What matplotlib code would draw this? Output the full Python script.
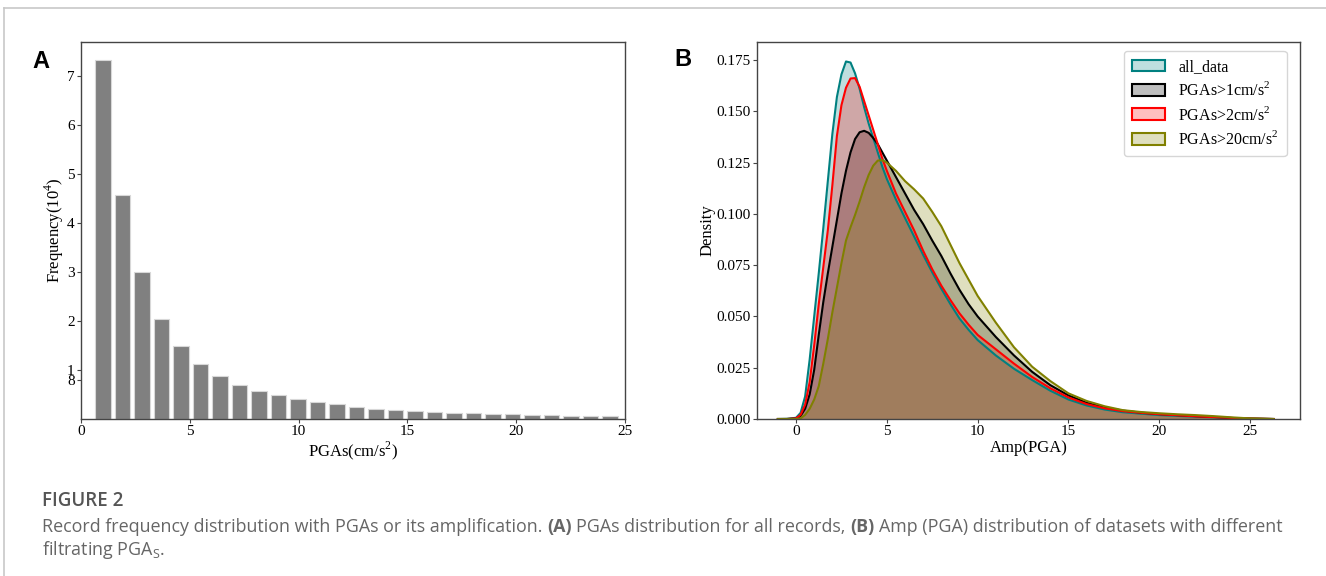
import matplotlib
matplotlib.use('Agg')

import matplotlib.pyplot as plt
from matplotlib.patches import Patch
from matplotlib.colors import to_rgba
from matplotlib.lines import Line2D

plt.rcParams['font.family'] = ['Liberation Serif', 'DejaVu Serif']
plt.rcParams['mathtext.fontset'] = 'custom'
plt.rcParams['mathtext.rm'] = 'Liberation Serif'

# --- panel A: record counts per PGA bin (units of 10^4) ---
bin_start = 0.56
bin_width = 0.896
freq = [7.34, 4.58, 3.00, 2.04, 1.50, 1.13, 0.87, 0.70, 0.58, 0.48, 0.405,
        0.35, 0.30, 0.25, 0.205, 0.19, 0.165, 0.145, 0.13, 0.117, 0.105,
        0.10, 0.085, 0.077, 0.07, 0.058, 0.055]
freq_ticks = [0.8, 1, 2, 3, 4, 5, 6, 7]
freq_ticklabels = ['8', '1', '2', '3', '4', '5', '6', '7']

# --- panel B: density curves of Amp(PGA) ---
amp = [-1.0, -0.5, 0.0, 0.25, 0.5, 0.75, 1.0, 1.25, 1.5, 1.75, 2.0, 2.25,
       2.5, 2.75, 3.0, 3.25, 3.5, 3.75, 4.0, 4.25, 4.5, 4.75, 5.0, 5.5, 6.0,
       6.5, 7.0, 7.5, 8.0, 8.5, 9.0, 9.5, 10, 11, 12, 13, 14, 15, 16, 17,
       18, 19, 20, 21, 22, 23, 24, 25, 26.3]
dens_all = [0.0, 0.0001, 0.0006, 0.003, 0.011, 0.029, 0.050, 0.071, 0.093,
            0.116, 0.139, 0.157, 0.168, 0.1743, 0.1738, 0.1685, 0.161, 0.152,
            0.144, 0.137, 0.130, 0.123, 0.117, 0.107, 0.098, 0.089, 0.080,
            0.0715, 0.0635, 0.056, 0.049, 0.0435, 0.0385, 0.031, 0.0245,
            0.019, 0.0138, 0.0095, 0.0066, 0.0046, 0.0033, 0.0026, 0.0019,
            0.0015, 0.0011, 0.0008, 0.0004, 0.0002, 0.0]
dens_gt1 = [0.0, 0.0, 0.0002, 0.0015, 0.005, 0.012, 0.024, 0.041, 0.057,
            0.071, 0.084, 0.097, 0.110, 0.121, 0.130, 0.1365, 0.1398, 0.1405,
            0.1395, 0.137, 0.134, 0.130, 0.126, 0.118, 0.110, 0.102, 0.095,
            0.087, 0.0795, 0.071, 0.063, 0.056, 0.050, 0.040, 0.031, 0.023,
            0.0165, 0.0115, 0.0079, 0.0056, 0.0041, 0.0031, 0.0024, 0.0019,
            0.0014, 0.001, 0.0005, 0.0002, 0.0]
dens_gt2 = [0.0, 0.0, 0.0003, 0.002, 0.007, 0.018, 0.036, 0.056, 0.074,
            0.092, 0.114, 0.138, 0.153, 0.1615, 0.166, 0.1662, 0.162, 0.155,
            0.148, 0.141, 0.134, 0.127, 0.121, 0.110, 0.101, 0.092, 0.082,
            0.073, 0.065, 0.058, 0.0515, 0.046, 0.041, 0.034, 0.027, 0.0205,
            0.015, 0.0105, 0.0073, 0.0052, 0.0038, 0.003, 0.0023, 0.0018,
            0.0013, 0.0009, 0.0005, 0.0002, 0.0]
dens_gt20 = [0.0, 0.0, 0.0, 0.0003, 0.002, 0.005, 0.0095, 0.016, 0.027,
             0.039, 0.052, 0.064, 0.076, 0.087, 0.0935, 0.0995, 0.106, 0.113,
             0.119, 0.1235, 0.126, 0.1262, 0.125, 0.121, 0.116, 0.112, 0.1075,
             0.101, 0.094, 0.085, 0.076, 0.068, 0.060, 0.047, 0.035, 0.0255,
             0.0185, 0.0125, 0.0088, 0.0062, 0.0043, 0.0034, 0.0028, 0.0023,
             0.0019, 0.0014, 0.0008, 0.0003, 0.0]

series = [
  ('all_data', dens_all, '#008080'),
  ('PGAs>1cm/s$^{\\mathregular{2}}$', dens_gt1, 'black'),
  ('PGAs>2cm/s$^{\\mathregular{2}}$', dens_gt2, 'red'),
  ('PGAs>20cm/s$^{\\mathregular{2}}$', dens_gt20, '#808000'),
]

W, H = 1326, 576
fig = plt.figure(figsize=(W / 100, H / 100), dpi=100)

def frac_box(x0, y0, x1, y1):
  return [x0 / W, 1 - y1 / H, (x1 - x0) / W, (y1 - y0) / H]

spine_col = '#444444'
tick_fs = 11
label_fs = 12

# Panel A
axA = fig.add_axes(frac_box(81, 42, 625, 419))
centers = [bin_start + bin_width * (i + 0.5) for i in range(len(freq))]
axA.bar(centers, freq, width=bin_width * 0.8, color='#808080',
        edgecolor='#d8d8d8', linewidth=0.8)
axA.set_xlim(0, 25)
axA.set_ylim(0, 7.7)
axA.set_xticks([0, 5, 10, 15, 20, 25])
axA.set_yticks(freq_ticks)
axA.set_yticklabels(freq_ticklabels)
axA.set_xlabel('PGAs(cm/s$^{\\mathregular{2}}$)', fontsize=label_fs, labelpad=1)
axA.set_ylabel('Frequency(10$^{\\mathregular{4}}$)', fontsize=label_fs, labelpad=0.5)

# Panel B
axB = fig.add_axes(frac_box(757, 42, 1300, 419))
handles = []
for name, dens, col in series:
  axB.fill_between(amp, dens, color=col, alpha=0.25, linewidth=0)
  axB.plot(amp, dens, color=col, linewidth=1.5)
  handles.append(Patch(facecolor=to_rgba(col, 0.25), edgecolor=col,
                       linewidth=1.5, label=name))
axB.set_xlim(-2.15, 27.75)
axB.set_ylim(0, 0.1838)
axB.set_xticks([0, 5, 10, 15, 20, 25])
axB.set_yticks([0.0, 0.025, 0.05, 0.075, 0.1, 0.125, 0.15, 0.175])
axB.yaxis.set_major_formatter(matplotlib.ticker.FormatStrFormatter('%.3f'))
axB.set_xlabel('Amp(PGA)', fontsize=label_fs, labelpad=1)
axB.set_ylabel('Density', fontsize=label_fs, labelpad=1)
axB.legend(handles=handles, loc='upper right', fontsize=11.5,
           handlelength=2.1, handleheight=0.75, labelspacing=0.4,
           borderpad=0.5, bbox_to_anchor=(0.99, 0.997))

for ax in (axA, axB):
  for sp in ax.spines.values():
    sp.set_color(spine_col)
    sp.set_linewidth(1.0)
  ax.tick_params(labelsize=tick_fs, length=3, width=0.8, color=spine_col, pad=1.5)

# Panel letters
fig.text(41 / W, 1 - 68 / H, 'A', fontsize=17, weight='bold',
         family='Liberation Sans', ha='center', va='baseline')
fig.text(683 / W, 1 - 66 / H, 'B', fontsize=17, weight='bold',
         family='Liberation Sans', ha='center', va='baseline')

# Page border lines
fig.add_artist(Line2D([4 / W, 1], [1 - 8 / H, 1 - 8 / H], color='#c8c8c8', lw=1.2))
fig.add_artist(Line2D([4 / W, 4 / W], [0, 1 - 8 / H], color='#c8c8c8', lw=1.2))

# Caption
cap_font = 'Open Sans'
cap_col = '#666666'
cap_fs = 12.9
fig.text(42 / W, 1 - 506 / H, 'FIGURE 2', fontsize=13.5, family=cap_font,
         color='#555555', weight='semibold', va='baseline')

renderer = fig.canvas.get_renderer()

def text_width(s, weight):
  t = fig.text(0, 0, s, fontsize=cap_fs, family=cap_font, weight=weight)
  w = t.get_window_extent(renderer=renderer).width
  t.remove()
  return w

space_w = text_width('a a', 'normal') - text_width('aa', 'normal')

def caption_line(x, y, parts):
  for s, weight in parts:
    t = fig.text(x / W, 1 - y / H, s, fontsize=cap_fs, family=cap_font,
                 weight=weight, color=cap_col, va='baseline')
    x += t.get_window_extent(renderer=renderer).width + space_w

caption_line(42, 532, [
  ('Record frequency distribution with PGAs or its amplification.', 'normal'),
  ('(A)', 'bold'),
  ('PGAs distribution for all records,', 'normal'),
  ('(B)', 'bold'),
  ('Amp (PGA) distribution of datasets with different', 'normal'),
])
caption_line(42, 555, [
  ('filtrating PGA$_{\\mathregular{S}}$.', 'normal'),
])

fig.savefig('out.png', dpi=100)
